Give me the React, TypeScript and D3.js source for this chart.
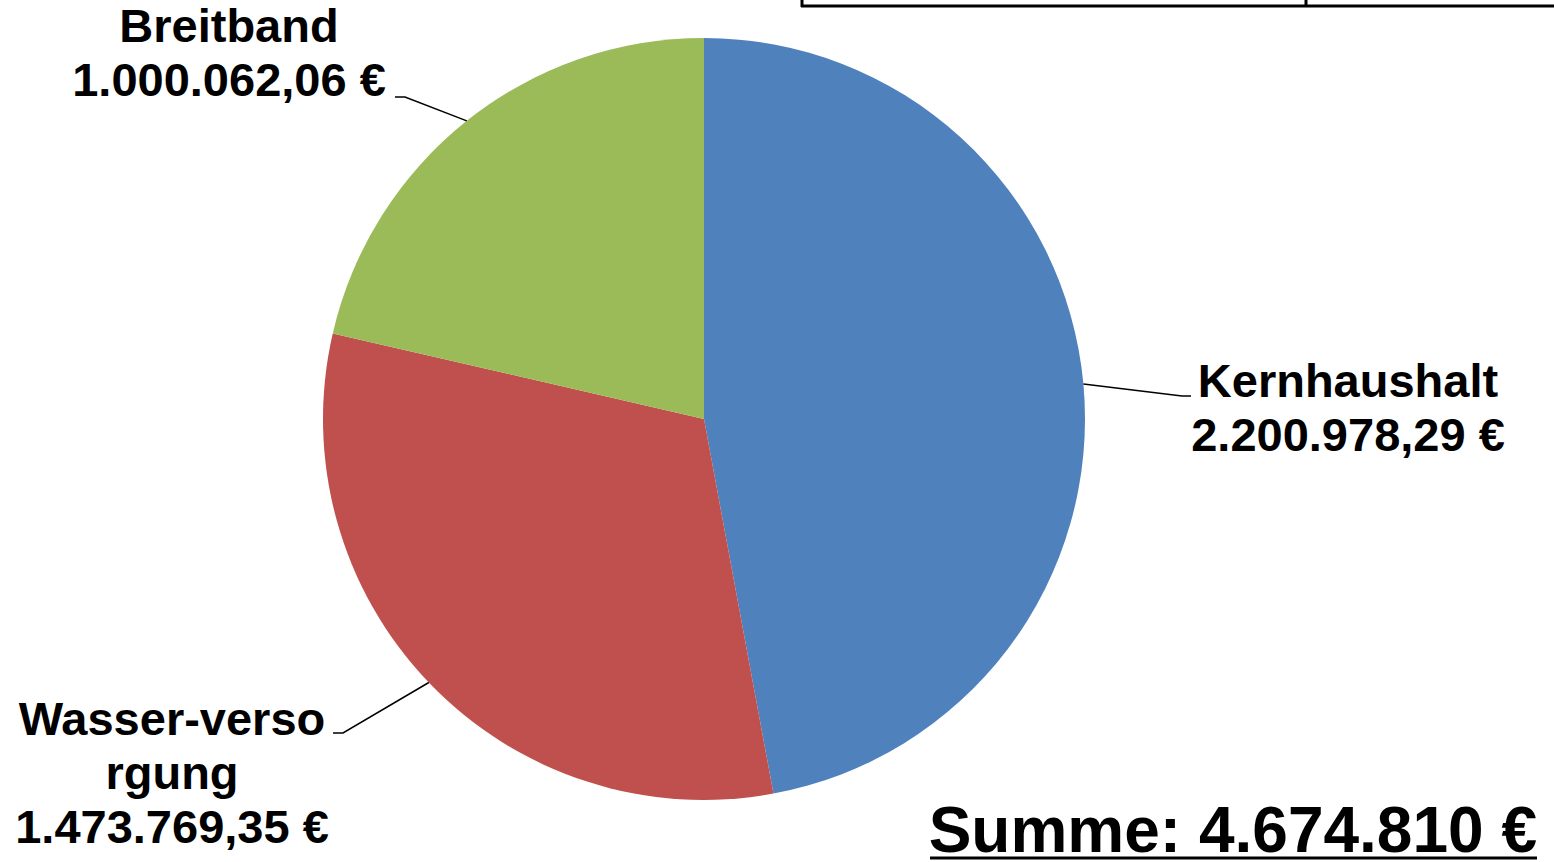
import React from "react";
import * as d3 from "d3";

const categories = ["Kernhaushalt", "Wasser-versorgung", "Breitband"];
const values = [2200978.29, 1473769.35, 1000062.06];
const labelLines = [
  ["Kernhaushalt", "2.200.978,29 €"],
  ["Wasser-verso", "rgung", "1.473.769,35 €"],
  ["Breitband", "1.000.062,06 €"],
];
const colors = ["#4F81BD", "#C0504D", "#9BBB59"];
const totalLabel = "Summe: 4.674.810 €";

const W = 1554;
const H = 862;
const cx = 704;
const cy = 419;
const R = 381;
const FONT = "'Liberation Sans', Arial, sans-serif";
const FS = 47;
const LH = 54;

// label layout: anchor center x, first baseline y, elbow points
const labelLayout = [
  { x: 1348, y: 397, elbow: [1182, 396], end: [1191, 396] },
  { x: 172, y: 735, elbow: [343, 733], end: [333, 733] },
  { x: 229, y: 42, elbow: [405, 97], end: [395, 97] },
];

export default function App() {
  const pie = d3.pie<number>().sort(null).value((d) => d)(values);
  const arc = d3.arc<d3.PieArcDatum<number>>().innerRadius(0).outerRadius(R);
  return (
    <svg
      width={W}
      height={H}
      style={{ position: "absolute", left: 0, top: 0, display: "block", background: "#fff" }}
    >
      {/* table fragment at top right */}
      <g stroke="#000" strokeWidth={3} fill="none">
        <line x1={801} y1={6} x2={W} y2={6} />
        <line x1={802} y1={0} x2={802} y2={7} />
        <line x1={1306} y1={0} x2={1306} y2={7} />
      </g>
      <g transform={`translate(${cx},${cy})`}>
        {pie.map((p, i) => (
          <path key={categories[i]} d={arc(p) || ""} fill={colors[i]} />
        ))}
      </g>
      {pie.map((p, i) => {
        const mid = (p.startAngle + p.endAngle) / 2;
        const px = cx + R * Math.sin(mid);
        const py = cy - R * Math.cos(mid);
        const L = labelLayout[i];
        return (
          <g key={"lab" + i}>
            <polyline
              points={`${px},${py} ${L.elbow[0]},${L.elbow[1]} ${L.end[0]},${L.end[1]}`}
              fill="none"
              stroke="#000"
              strokeWidth={1.5}
            />
            <text
              x={L.x}
              y={L.y}
              textAnchor="middle"
              fontFamily={FONT}
              fontWeight="bold"
              fontSize={FS}
              fill="#000"
            >
              {labelLines[i].map((t, j) => (
                <tspan key={j} x={L.x} y={L.y + j * LH}>
                  {t}
                </tspan>
              ))}
            </text>
          </g>
        );
      })}
      <text
        x={1537}
        y={852}
        textAnchor="end"
        fontFamily={FONT}
        fontWeight="bold"
        fontSize={64}
        fill="#000"
      >
        {totalLabel}
      </text>
      <line x1={930} y1={858} x2={1537} y2={858} stroke="#000" strokeWidth={3} />
    </svg>
  );
}
